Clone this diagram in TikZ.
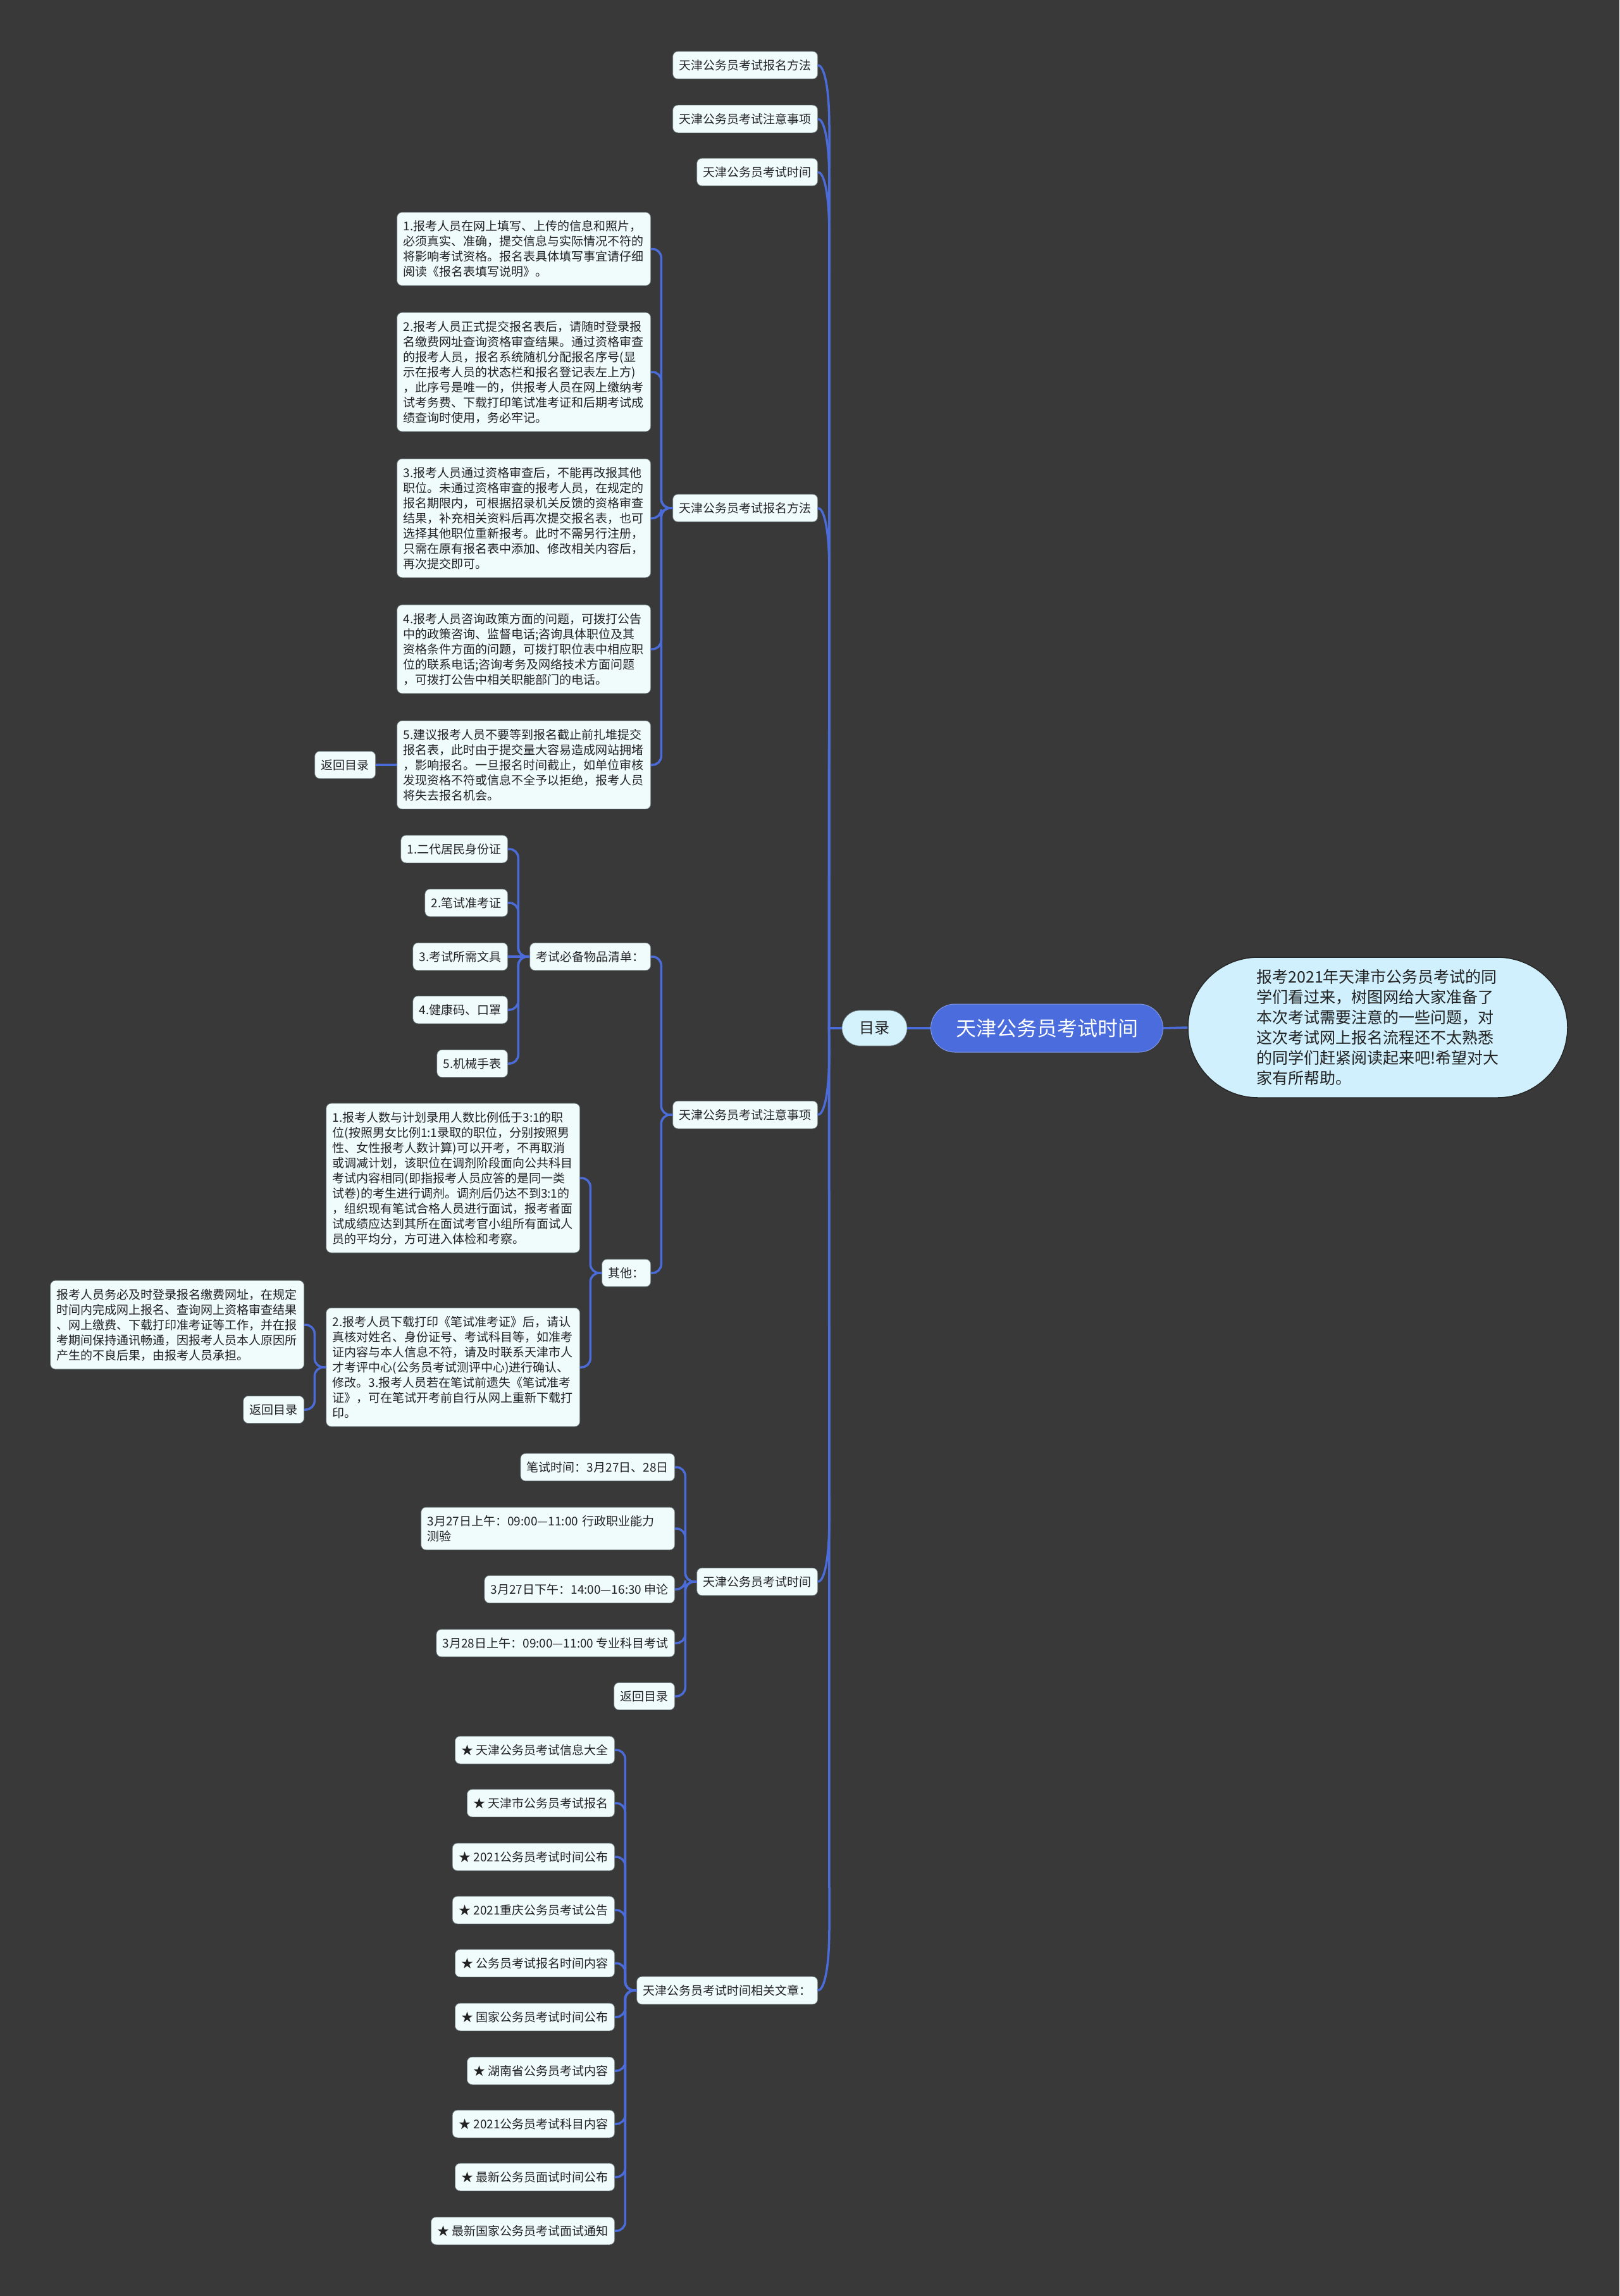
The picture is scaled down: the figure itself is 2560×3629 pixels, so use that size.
\documentclass[tikz,border=0pt]{standalone}
\usepackage{fontspec}
\setmainfont{Noto Sans CJK SC}
\usetikzlibrary{calc}
\definecolor{bgcol}{HTML}{393939}
\definecolor{boxfill}{HTML}{F0FBFC}
\definecolor{boxline}{HTML}{6E7C80}
\definecolor{linecol}{HTML}{4B6CD8}
\definecolor{rootfill}{HTML}{4A6CDC}
\definecolor{mulufill}{HTML}{D4F2FC}
\definecolor{descfill}{HTML}{CFF0FC}
\definecolor{txt}{HTML}{222222}
\tikzset{
  box/.style={draw=boxline, line width=0.7pt, fill=boxfill, rounded corners=8pt,
    inner xsep=10pt, inner ysep=13pt, font=\fontsize{19}{24}\selectfont,
    text=txt, anchor=east, align=left},
  longbox/.style={box, text width=381pt},
  conn/.style={draw=linecol, line width=3.5pt, rounded corners=14pt},
  trunk/.style={draw=linecol, line width=3.5pt},
}
\begin{document}
\begin{tikzpicture}[x=1pt,y=-1pt]
\fill[bgcol] (0,0) rectangle (2560,3629);
\useasboundingbox (0,0) rectangle (2560,3629);

% root, toc, description
\node[draw=rootfill!70!white, line width=1pt, fill=rootfill, rounded corners=38pt,
  minimum width=367pt, minimum height=76pt, text=white,
  font=\fontsize{32}{38}\selectfont] (root) at (1655,1625) {天津公务员考试时间};
\node[draw=boxline, line width=0.8pt, fill=mulufill, rounded corners=28pt,
  minimum width=103pt, minimum height=56pt, text=txt,
  font=\fontsize{24}{28}\selectfont] (mulu) at (1382.5,1625) {目录};
\node[draw=black!85, line width=1.5pt, fill=descfill, rounded corners=111pt,
  minimum width=600pt, minimum height=222pt, text=txt, align=left,
  font=\fontsize{25}{32}\selectfont] (desc) at (2178,1624)
  {报考2021年天津市公务员考试的同\\学们看过来，树图网给大家准备了\\本次考试需要注意的一些问题，对\\这次考试网上报名流程还不太熟悉\\的同学们赶紧阅读起来吧!希望对大\\家有所帮助。};
\draw[trunk] (root.west) -- (mulu.east);
\draw[trunk] (root.east) -- (desc.west);

% level 1
\node[box] (a1) at (1293,103) {天津公务员考试报名方法};
\node[box] (a2) at (1293,188) {天津公务员考试注意事项};
\node[box] (a3) at (1293,272) {天津公务员考试时间};
\node[box] (a4) at (1293,803) {天津公务员考试报名方法};
\node[box] (a5) at (1293,1762) {天津公务员考试注意事项};
\node[box] (a6) at (1293,2500) {天津公务员考试时间};
\node[box] (a7) at (1293,3146) {天津公务员考试时间相关文章：};
\foreach \n/\s in {a1/1,a2/1,a3/1,a4/1,a5/-1,a6/-1,a7/-1}
  \draw[trunk] (mulu.west) -- ++(-20,0) -- ($(\n.east)+(18,100*\s)$)
    .. controls ($(\n.east)+(18,30*\s)$) and ($(\n.east)+(9,0)$) .. (\n.east);

% 报名方法
\node[longbox] (b1) at (1029,393.5) {1.报考人员在网上填写、上传的信息和照片，\\必须真实、准确，提交信息与实际情况不符的\\将影响考试资格。报名表具体填写事宜请仔细\\阅读《报名表填写说明》。};
\node[longbox] (b2) at (1029,588) {2.报考人员正式提交报名表后，请随时登录报\\名缴费网址查询资格审查结果。通过资格审查\\的报考人员，报名系统随机分配报名序号(显\\示在报考人员的状态栏和报名登记表左上方)\\，此序号是唯一的，供报考人员在网上缴纳考\\试考务费、下载打印笔试准考证和后期考试成\\绩查询时使用，务必牢记。};
\node[longbox] (b3) at (1029,819) {3.报考人员通过资格审查后，不能再改报其他\\职位。未通过资格审查的报考人员，在规定的\\报名期限内，可根据招录机关反馈的资格审查\\结果，补充相关资料后再次提交报名表，也可\\选择其他职位重新报考。此时不需另行注册，\\只需在原有报名表中添加、修改相关内容后，\\再次提交即可。};
\node[longbox] (b4) at (1029,1026) {4.报考人员咨询政策方面的问题，可拨打公告\\中的政策咨询、监督电话;咨询具体职位及其\\资格条件方面的问题，可拨打职位表中相应职\\位的联系电话;咨询考务及网络技术方面问题\\，可拨打公告中相关职能部门的电话。};
\node[longbox] (b5) at (1029,1209) {5.建议报考人员不要等到报名截止前扎堆提交\\报名表，此时由于提交量大容易造成网站拥堵\\，影响报名。一旦报名时间截止，如单位审核\\发现资格不符或信息不全予以拒绝，报考人员\\将失去报名机会。};
\node[box] (b5r) at (594,1209) {返回目录};
\foreach \c in {b1,b2,b3,b4,b5}
  \draw[conn] (a4.west) -- ++(-18,0) |- (\c.east);
\draw[conn] (b5.west) -- (b5r.east);

% 注意事项
\node[box] (c1) at (1029,1512) {考试必备物品清单：};
\node[box] (c2) at (1029,2012) {其他：};
\foreach \c in {c1,c2}
  \draw[conn] (a5.west) -- ++(-18,0) |- (\c.east);
\node[box] (d1) at (803,1342) {1.二代居民身份证};
\node[box] (d2) at (803,1427) {2.笔试准考证};
\node[box] (d3) at (803,1512) {3.考试所需文具};
\node[box] (d4) at (803,1596) {4.健康码、口罩};
\node[box] (d5) at (803,1681) {5.机械手表};
\foreach \c in {d1,d2,d4,d5}
  \draw[conn] (c1.west) -- ++(-18,0) |- (\c.east);
\draw[conn] (c1.west) -- (d3.east);
\node[longbox] (e1) at (917,1862) {1.报考人数与计划录用人数比例低于3:1的职\\位(按照男女比例1:1录取的职位，分别按照男\\性、女性报考人数计算)可以开考，不再取消\\或调减计划，该职位在调剂阶段面向公共科目\\考试内容相同(即指报考人员应答的是同一类\\试卷)的考生进行调剂。调剂后仍达不到3:1的\\，组织现有笔试合格人员进行面试，报考者面\\试成绩应达到其所在面试考官小组所有面试人\\员的平均分，方可进入体检和考察。};
\node[longbox] (e2) at (917,2161) {2.报考人员下载打印《笔试准考证》后，请认\\真核对姓名、身份证号、考试科目等，如准考\\证内容与本人信息不符，请及时联系天津市人\\才考评中心(公务员考试测评中心)进行确认、\\修改。3.报考人员若在笔试前遗失《笔试准考\\证》，可在笔试开考前自行从网上重新下载打\\印。};
\foreach \c in {e1,e2}
  \draw[conn] (c2.west) -- ++(-18,0) |- (\c.east);
\node[longbox] (f1) at (481,2094) {报考人员务必及时登录报名缴费网址，在规定\\时间内完成网上报名、查询网上资格审查结果\\、网上缴费、下载打印准考证等工作，并在报\\考期间保持通讯畅通，因报考人员本人原因所\\产生的不良后果，由报考人员承担。};
\node[box] (f2) at (481,2228) {返回目录};
\foreach \c in {f1,f2}
  \draw[conn] (e2.west) -- ++(-18,0) |- (\c.east);

% 考试时间
\node[box] (g1) at (1067,2319) {笔试时间：3月27日、28日};
\node[longbox] (g2) at (1067,2416) {3月27日上午：09:00—11:00 行政职业能力\\测验};
\node[box] (g3) at (1067,2512) {3月27日下午：14:00—16:30 申论};
\node[box] (g4) at (1067,2597) {3月28日上午：09:00—11:00 专业科目考试};
\node[box] (g5) at (1067,2681) {返回目录};
\foreach \c in {g1,g2,g3,g4,g5}
  \draw[conn] (a6.west) -- ++(-18,0) |- (\c.east);

% 相关文章
\node[box] (h1) at (972,2766) {★ 天津公务员考试信息大全};
\node[box] (h2) at (972,2850) {★ 天津市公务员考试报名};
\node[box] (h3) at (972,2935) {★ 2021公务员考试时间公布};
\node[box] (h4) at (972,3019) {★ 2021重庆公务员考试公告};
\node[box] (h5) at (972,3103) {★ 公务员考试报名时间内容};
\node[box] (h6) at (972,3188) {★ 国家公务员考试时间公布};
\node[box] (h7) at (972,3273) {★ 湖南省公务员考试内容};
\node[box] (h8) at (972,3357) {★ 2021公务员考试科目内容};
\node[box] (h9) at (972,3441) {★ 最新公务员面试时间公布};
\node[box] (h10) at (972,3526) {★ 最新国家公务员考试面试通知};
\foreach \c in {h1,h2,h3,h4,h5,h6,h7,h8,h9,h10}
  \draw[conn] (a7.west) -- ++(-18,0) |- (\c.east);
\end{tikzpicture}
\end{document}
